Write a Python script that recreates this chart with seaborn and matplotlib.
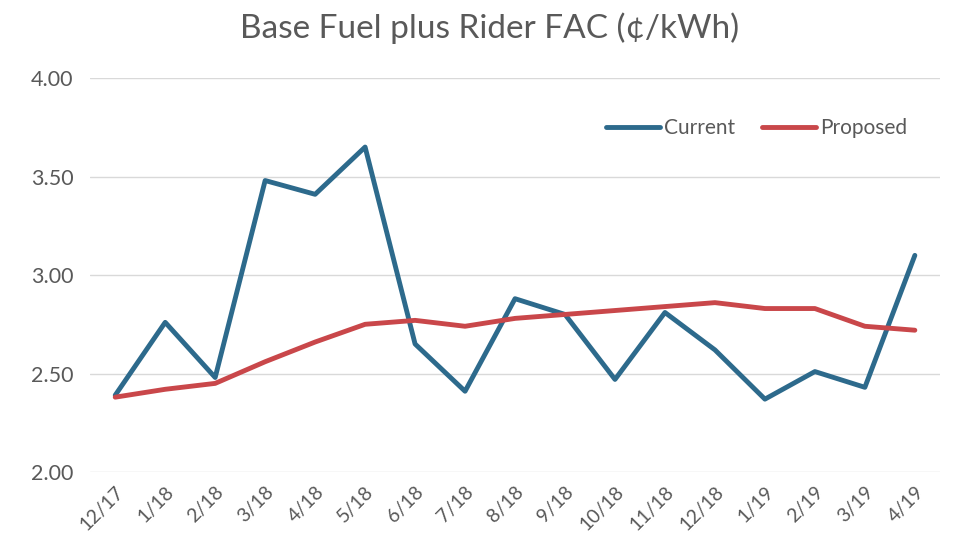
import matplotlib
matplotlib.use("Agg")
import matplotlib.pyplot as plt
import seaborn as sns
import pandas as pd

months = ["12/17", "1/18", "2/18", "3/18", "4/18", "5/18", "6/18", "7/18", "8/18",
          "9/18", "10/18", "11/18", "12/18", "1/19", "2/19", "3/19", "4/19"]
current = [2.39, 2.76, 2.48, 3.48, 3.41, 3.65, 2.65, 2.41, 2.88,
           2.80, 2.47, 2.81, 2.62, 2.37, 2.51, 2.43, 3.10]
proposed = [2.38, 2.42, 2.45, 2.56, 2.66, 2.75, 2.77, 2.74, 2.78,
            2.80, 2.82, 2.84, 2.86, 2.83, 2.83, 2.74, 2.72]
yticks = [2.00, 2.50, 3.00, 3.50, 4.00]

sns.set_theme(style="white")
plt.rcParams["font.family"] = ["Lato", "DejaVu Sans"]

df = pd.DataFrame({
    "Month": months * 2,
    "x": list(range(len(months))) * 2,
    "Value": current + proposed,
    "Series": ["Current"] * len(months) + ["Proposed"] * len(months),
})

fig = plt.figure(figsize=(9.6, 5.54), dpi=100)
ax = fig.add_axes([0.094, 0.148, 0.885, 0.711])
sns.lineplot(data=df, x="x", y="Value", hue="Series",
             palette={"Current": "#2D6A8C", "Proposed": "#C9474A"},
             linewidth=3.5, ax=ax, sort=False)

ax.set_xlim(-0.5, len(months) - 0.5)
ax.set_ylim(2.0, 4.0)
ax.set_yticks(yticks)
ax.set_yticklabels([f"{v:.2f}" for v in yticks], fontsize=15.5, color="#595959")
ax.set_xticks(range(len(months)))
ax.set_xticklabels(months, rotation=45, ha="right", rotation_mode="anchor",
                   fontsize=14, color="#595959")
ax.tick_params(axis="x", length=0, pad=8)
ax.tick_params(axis="y", length=0, pad=12)
ax.grid(axis="y", color="#D9D9D9", linewidth=1)
for s in ax.spines.values():
    s.set_visible(False)
ax.set_xlabel("")
ax.set_ylabel("")

leg = ax.legend(loc="center right", bbox_to_anchor=(0.962, 0.873), ncol=2, frameon=False,
                fontsize=15, handlelength=2.6, handletextpad=0.2, columnspacing=1.3,
                borderpad=0, borderaxespad=0)
for t in leg.get_texts():
    t.set_color("#595959")

fig.text(0.51, 0.95, "Base Fuel plus Rider FAC (¢/kWh)", ha="center", va="center",
         fontsize=24, color="#595959")

fig.savefig("out.png", dpi=100, facecolor="white")
